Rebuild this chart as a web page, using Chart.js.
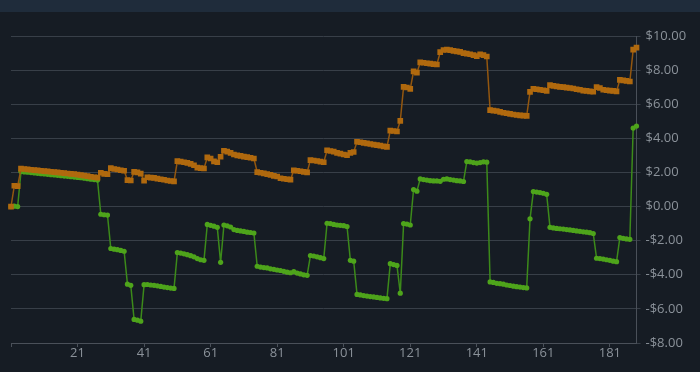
<!DOCTYPE html>
<html>
<head>
<meta charset="utf-8">
<script src="https://cdn.jsdelivr.net/npm/chart.js@4.4.1/dist/chart.umd.min.js"></script>
<style>
    html, body { margin: 0; padding: 0; background: #161c24; }
    #bar { height: 12px; background: #1f2c3b; }
    #wrap { width: 700px; height: 360px; position: relative; }
</style>
</head>
<body>
<div id="bar"></div>
<div id="wrap"><canvas id="chart"></canvas></div>
<script>
// =========================
// DATA
// =========================
let dias = [];
for (let i = 1; i <= 189; i++) dias.push(i);

let rotulosX = [21, 41, 61, 81, 101, 121, 141, 161, 181];

let laranja = [
    0.0, 1.22, 1.2,
    2.22, 2.2, 2.18, 2.16, 2.14, 2.12, 2.1, 2.08, 2.06, 2.04, 2.02, 2.0,
    1.98, 1.96, 1.94, 1.92, 1.9, 1.87, 1.84, 1.81, 1.78, 1.75, 1.72, 1.7,
    1.98, 1.92, 1.9,
    2.25, 2.2, 2.17, 2.13, 2.1,
    1.55, 1.53,
    2.03, 2.0, 1.93,
    1.52,
    1.72, 1.7, 1.68, 1.64, 1.6, 1.57, 1.53, 1.5, 1.48,
    2.66, 2.63, 2.6, 2.56, 2.5, 2.42,
    2.28, 2.25, 2.23,
    2.88, 2.82, 2.65, 2.6,
    2.92,
    3.27, 3.22, 3.15,
    3.05, 3.0, 2.97, 2.93, 2.9, 2.86, 2.82,
    2.02, 1.98, 1.95, 1.9, 1.86, 1.8, 1.76,
    1.66, 1.63, 1.6, 1.58,
    2.12, 2.1, 2.07, 2.03, 2.0,
    2.72, 2.7, 2.67, 2.63, 2.6,
    3.3, 3.26, 3.22,
    3.15, 3.1, 3.05, 3.02,
    3.15, 3.2,
    3.8, 3.77, 3.73, 3.7, 3.67, 3.63, 3.6, 3.57, 3.53, 3.5,
    4.45, 4.43, 4.4,
    5.02,
    7.02, 6.98, 6.9,
    7.93, 7.85,
    8.45, 8.43, 8.4, 8.38, 8.35, 8.33,
    9.05,
    9.18, 9.2, 9.17, 9.13, 9.1, 9.07,
    9.0, 8.97, 8.93, 8.88, 8.82, 8.93, 8.88, 8.8,
    5.65, 5.62, 5.6, 5.55, 5.5, 5.47, 5.43, 5.4, 5.37, 5.35, 5.33, 5.32,
    6.72,
    6.9, 6.88, 6.85, 6.82, 6.78,
    7.12, 7.08, 7.05, 7.02, 7.0, 6.97, 6.95, 6.92, 6.88, 6.85, 6.8, 6.78, 6.75,
    6.73,
    7.0, 6.95,
    6.85, 6.82, 6.8, 6.78, 6.75,
    7.43, 7.4, 7.37, 7.33,
    9.2, 9.32
];

let verde = [
    0.0, 0.02, 0.0,
    2.05, 2.03, 2.01, 1.99, 1.97, 1.95, 1.93, 1.91, 1.89, 1.87, 1.85, 1.83,
    1.81, 1.79, 1.77, 1.75, 1.73, 1.71, 1.69, 1.66, 1.63, 1.6, 1.58, 1.55,
    -0.45, -0.48, -0.5,
    -2.46, -2.5, -2.53, -2.57, -2.62,
    -4.55, -4.62,
    -6.62, -6.66, -6.72,
    -4.58, -4.57, -4.6, -4.62, -4.65, -4.68, -4.72, -4.75, -4.78, -4.8,
    -2.7, -2.73, -2.77, -2.82, -2.88, -2.95, -3.05, -3.12, -3.15,
    -1.05, -1.1, -1.15, -1.22,
    -3.27,
    -1.08, -1.13, -1.2,
    -1.35, -1.4, -1.43, -1.46, -1.5, -1.52, -1.55,
    -3.5, -3.55, -3.58, -3.6, -3.65, -3.68, -3.72, -3.75,
    -3.8, -3.85, -3.88, -3.82, -3.9, -3.95, -4.0, -4.03,
    -2.87, -2.9, -2.95, -3.0, -3.05,
    -0.98, -1.0, -1.05, -1.08, -1.1, -1.12, -1.17,
    -3.15, -3.2,
    -5.15, -5.18, -5.22, -5.25, -5.28, -5.3, -5.33, -5.36, -5.38, -5.4,
    -3.35, -3.4, -3.45,
    -5.08,
    -1.0, -1.03, -1.08,
    1.0, 0.9,
    1.62, 1.58, 1.55, 1.52, 1.5, 1.5, 1.48, 1.6, 1.62, 1.58, 1.55, 1.52, 1.5, 1.47,
    2.64, 2.62, 2.58, 2.55, 2.58, 2.62, 2.6,
    -4.42, -4.45, -4.5, -4.52, -4.55, -4.6, -4.63, -4.67, -4.7, -4.72, -4.75, -4.77,
    -0.72,
    0.88, 0.85, 0.82, 0.78, 0.72,
    -1.22, -1.25, -1.28, -1.3, -1.32, -1.35, -1.37, -1.4, -1.43, -1.45, -1.48, -1.5, -1.53, -1.58,
    -3.03, -3.05, -3.08, -3.12, -3.15, -3.2, -3.23,
    -1.82, -1.86, -1.9, -1.92,
    4.6, 4.72
];

// =========================
// CHART
// =========================
Chart.defaults.font.family = "'Open Sans', sans-serif";
Chart.defaults.font.size = 13;
Chart.defaults.color = "#8b929a";

function dinheiro(v) {
    return (v < 0 ? "-$" : "$") + Math.abs(v).toFixed(2);
}

new Chart(document.getElementById("chart"), {
    type: "line",
    data: {
        labels: dias,
        datasets: [{
            data: laranja,
            borderColor: "#94570f",
            borderWidth: 1.5,
            pointStyle: "rect",
            pointRadius: 4,
            pointBorderWidth: 0,
            pointBackgroundColor: "#b0690e",
            tension: 0
        }, {
            data: verde,
            borderColor: "#3c8a1a",
            borderWidth: 1.5,
            pointStyle: "circle",
            pointRadius: 2.6,
            pointBorderWidth: 0,
            pointBackgroundColor: "#4ea41b",
            tension: 0
        }]
    },
    options: {
        responsive: true,
        maintainAspectRatio: false,
        animation: false,
        layout: { padding: { top: 24, left: 11, right: 0, bottom: 0 } },
        plugins: {
            legend: { display: false },
            tooltip: { enabled: false }
        },
        scales: {
            x: {
                afterFit: s => { s.height = 29; },
                grid: {
                    drawOnChartArea: false,
                    tickLength: 4,
                    color: ctx => rotulosX.includes(dias[ctx.index]) || ctx.index === 0 ? "#4a5059" : "transparent"
                },
                border: { color: "#4a5059" },
                ticks: {
                    autoSkip: false,
                    maxRotation: 0,
                    padding: -2,
                    callback: (v, i) => rotulosX.includes(dias[i]) ? String(dias[i]) : ""
                }
            },
            y: {
                position: "right",
                min: -8,
                max: 10,
                afterFit: s => { s.width = 63.5; },
                grid: { color: "#383f48", tickLength: 4 },
                border: { color: "#4a5059" },
                ticks: {
                    stepSize: 2,
                    padding: 5,
                    callback: v => dinheiro(v)
                }
            }
        }
    }
});
</script>
</body>
</html>
